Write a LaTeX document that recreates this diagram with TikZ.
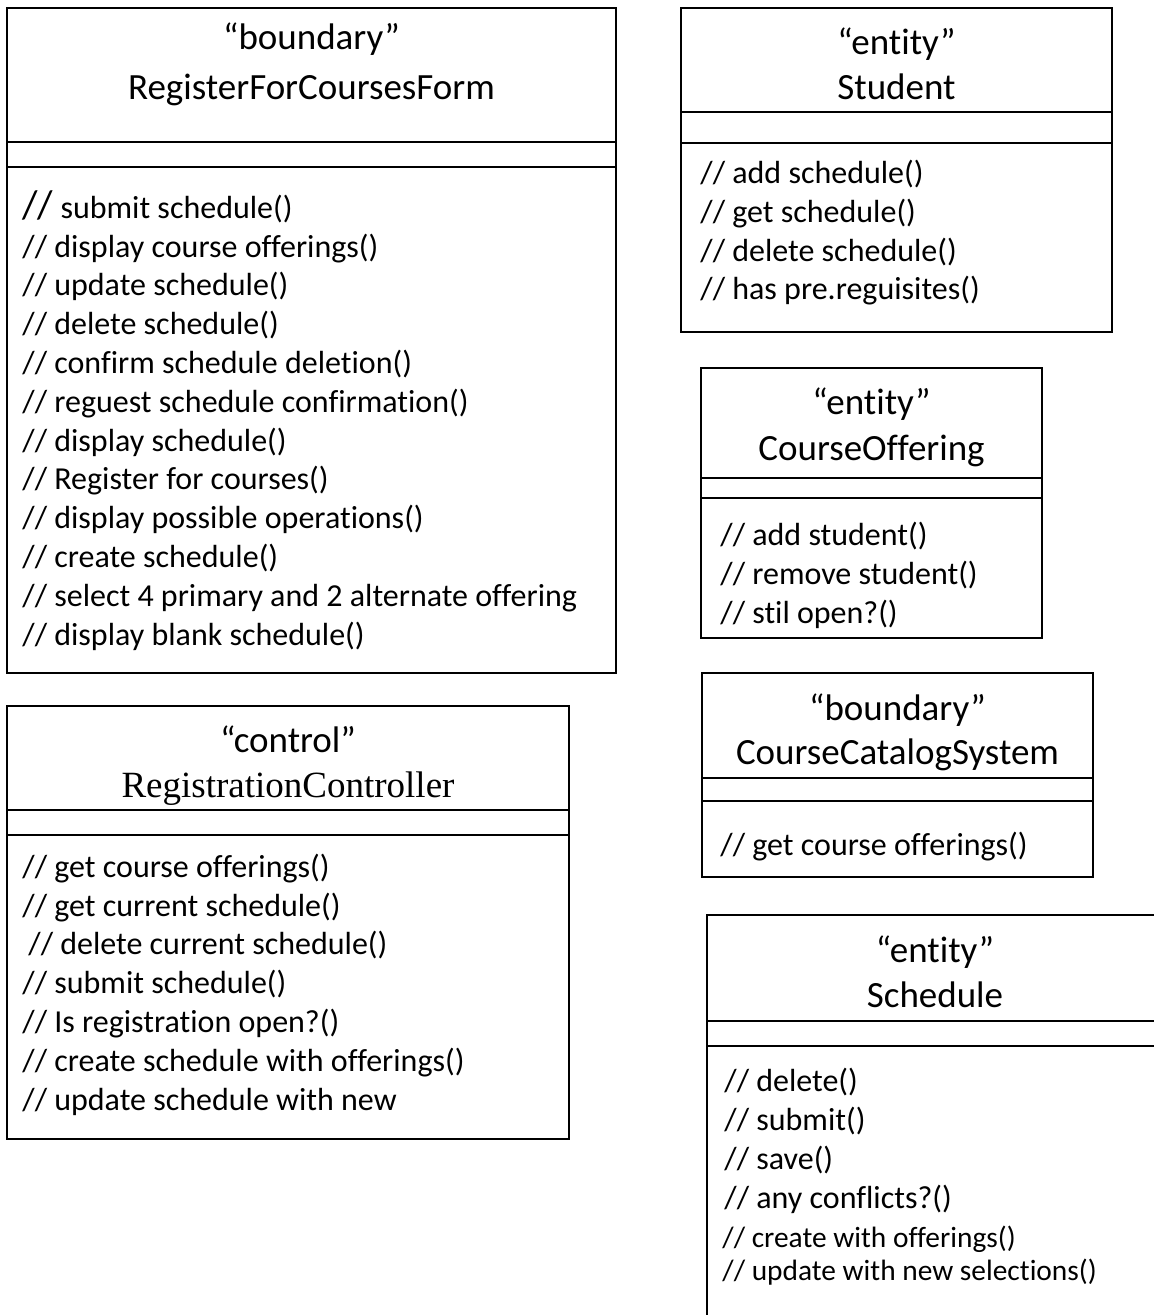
\documentclass[tikz,border=0pt]{standalone}
\usepackage{fontspec}
\setmainfont[Ligatures={TeX,NoCommon}]{Carlito}
\newfontfamily\timesfont{Liberation Serif}
\usetikzlibrary{positioning}

\begin{document}
\begin{tikzpicture}[
    x=0.5pt, y=-0.5pt,
    cls/.style={draw, line width=1pt},
    stereo/.style={anchor=base, inner sep=0pt, font=\fontsize{18.5}{22}\selectfont},
    cname/.style={stereo},
    % base of a multi-line node = baseline of its last line
    ops/.style={anchor=base west, align=left, inner sep=0pt,
                font=\fontsize{16}{19.4}\selectfont},
    smallops/.style={ops, font=\fontsize{14.7}{16.5}\selectfont},
  ]
  \useasboundingbox (0,0) rectangle (1154,1315);

  % --- boundary: RegisterForCoursesForm (top left) ---
  \draw[cls] (7,8) rectangle (616,673);
  \draw[cls] (7,142) -- (616,142);
  \draw[cls] (7,167) -- (616,167);
  \node[stereo] (formstereo) at (311.5,50) {“boundary”};
  \node[cname] (formname) at (311.5,100) {RegisterForCoursesForm};
  \node[ops] (formops) at (22,645)
    {{\fontsize{20}{19.4}\selectfont//} submit schedule()\\
     // display course offerings()\\
     // update schedule()\\
     // delete schedule()\\
     // confirm schedule deletion()\\
     // reguest schedule confirmation()\\
     // display schedule()\\
     // Register for courses()\\
     // display possible operations()\\
     // create schedule()\\
     // select 4 primary and 2 alternate offering\\
     // display blank schedule()};

  % --- control: RegistrationController (bottom left) ---
  \draw[cls] (7,706) rectangle (569,1139);
  \draw[cls] (7,810) -- (569,810);
  \draw[cls] (7,835) -- (569,835);
  \node[stereo] (ctrlstereo) at (288,752) {“control”};
  \node[cname, font=\timesfont\fontsize{18.5}{22}\selectfont] (ctrlname) at (288,797)
    {RegistrationController};
  \node[ops] (ctrlops) at (22,1110)
    {// get course offerings()\\
     // get current schedule()\\
     \hspace*{3pt}// delete current schedule()\\
     // submit schedule()\\
     // Is registration open?()\\
     // create schedule with offerings()\\
     // update schedule with new};

  % --- entity: Student ---
  \draw[cls] (681,8) rectangle (1112,332);
  \draw[cls] (681,112) -- (1112,112);
  \draw[cls] (681,143) -- (1112,143);
  \node[stereo] (studstereo) at (896.5,55) {“entity”};
  \node[cname] (studname) at (896.5,100) {Student};
  \node[ops] (studops) at (700,300)
    {// add schedule()\\
     // get schedule()\\
     // delete schedule()\\
     // has pre.reguisites()};

  % --- entity: CourseOffering ---
  \draw[cls] (701,368) rectangle (1042,638);
  \draw[cls] (701,478) -- (1042,478);
  \draw[cls] (701,498) -- (1042,498);
  \node[stereo] (offstereo) at (871.5,415) {“entity”};
  \node[cname] (offname) at (871.5,460) {CourseOffering};
  \node[ops] (offops) at (720,623)
    {// add student()\\
     // remove student()\\
     // stil open?()};

  % --- boundary: CourseCatalogSystem ---
  \draw[cls] (702,673) rectangle (1093,877);
  \draw[cls] (702,778) -- (1093,778);
  \draw[cls] (702,801) -- (1093,801);
  \node[stereo] (catstereo) at (897.5,720) {“boundary”};
  \node[cname] (catname) at (897.5,764) {CourseCatalogSystem};
  \node[ops] (catops) at (720,855) {// get course offerings()};

  % --- entity: Schedule (runs off the page) ---
  \draw[cls] (1154,915) -- (707,915) -- (707,1315);
  \draw[cls] (707,1021) -- (1154,1021);
  \draw[cls] (707,1046) -- (1154,1046);
  \node[stereo] (schedstereo) at (935,962) {“entity”};
  \node[cname] (schedname) at (935,1007) {Schedule};
  \node[ops] (schedops) at (724,1208)
    {// delete()\\
     // submit()\\
     // save()\\
     // any conflicts?()};
  \node[smallops] (schedops2) at (722,1280)
    {// create with offerings()\\
     // update with new selections()};
\end{tikzpicture}
\end{document}
